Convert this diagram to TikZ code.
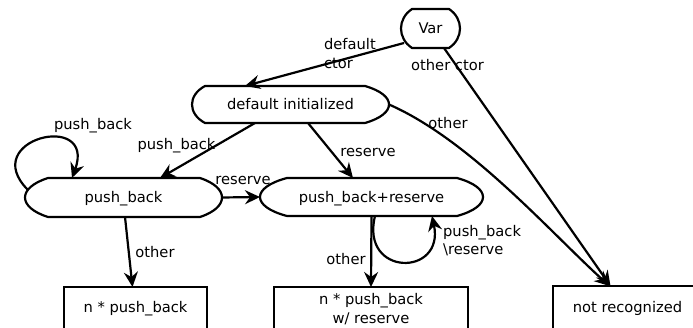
\documentclass[tikz,border=0pt]{standalone}
\usepackage{fontspec}
\setmainfont{DejaVu Sans}
\usetikzlibrary{arrows.meta,calc}
\newcommand\stateoutline[6]{%
  \draw[outline] ({#1+#5},#3) -- ({#2-#6},#3)
    .. controls ({#2+#6/3},{#3+0.25*(#4-#3)}) and ({#2+#6/3},{#4-0.25*(#4-#3)}) .. ({#2-#6},#4)
    -- ({#1+#5},#4)
    .. controls ({#1-#5/3},{#4-0.25*(#4-#3)}) and ({#1-#5/3},{#3+0.25*(#4-#3)}) .. cycle;}
\begin{document}
\begin{tikzpicture}[x=1pt,y=-1pt,
  font=\fontsize{14.7pt}{18.4pt}\selectfont,
  line width=2.2pt,
  statenode/.style={inner sep=0pt,outer sep=0pt,text height=11pt,text depth=0pt},
  boxnode/.style={draw,inner sep=0pt,outer sep=0pt,align=center},
  lab/.style={inner sep=0pt,anchor=base},
  mlab/.style={inner sep=0pt,align=left,anchor=base west},
  arr/.style={-{Stealth[length=15pt,width=14pt,inset=5pt]}},
  outline/.style={line join=round}]
\useasboundingbox (0,0) rectangle (693,328);
\clip (0,0) rectangle (693,328);
% states
\node[statenode,minimum width=59pt,minimum height=39pt] (var) at (430.5,28.5) {Var};
\node[statenode,minimum width=197pt,minimum height=37pt] (di) at (290.5,104.5) {default initialized};
\node[statenode,minimum width=197pt,minimum height=39pt] (pb) at (123.5,197.5) {push\_back};
\node[statenode,minimum width=223pt,minimum height=38pt] (pbr) at (371.5,197) {push\_back+reserve};
\stateoutline{401}{460}{9}{48}{11}{11}
\stateoutline{192}{389}{86}{123}{13}{24}
\stateoutline{25}{222}{178}{217}{23}{22}
\stateoutline{260}{483}{178}{216}{27}{26}
% results
\node[boxnode,minimum width=143pt,minimum height=44pt] (npb) at (135.5,309) {n * push\_back};
\node[boxnode,minimum width=194pt,minimum height=44pt] (npbr) at (371,309) {n * push\_back\\w/ reserve};
\node[boxnode,minimum width=149pt,minimum height=44pt] (nr) at (627.5,308) {not recognized};
% connectors
\draw[arr] ($(var.south west)+(3,-5)$) -- ($(di.north)+(-45.5,0)$)
  node[mlab] at (323,68.3) {default\\ctor};
\draw[arr] ($(var.south)+(13.5,0)$) -- ($(nr.north)+(-17,0)$)
  node[lab] at (447.5,71) {other ctor};
\draw[arr] (di.east) .. controls (470,140) and (550,232) .. ($(nr.north)+(-18,0)$)
  node[lab] at (448,128.3) {other};
\draw[arr] ($(di.south)+(-35.5,0)$) -- ($(pb.north)+(36.5,0)$)
  node[lab] at (176.5,149.3) {push\_back};
\draw[arr] ($(di.south)+(17.5,0)$) -- ($(pbr.north)+(-18.5,0)$)
  node[lab] at (368,157) {reserve};
\draw[arr] ($(pb.west)+(3,-7.5)$) .. controls +(-51,-51) and +(24.6,-67.7) .. ($(pb.north west)+(47,0)$)
  node[lab] at (93,130) {push\_back};
\draw[arr] (pb.east) -- (pbr.west)
  node[lab] at (243,185) {reserve};
\draw[arr] ($(pb.south)+(1.5,0)$) -- ($(npb.north)+(-3,0)$)
  node[lab] at (155,257.3) {other};
\draw[arr] ($(pbr.south)+(3.5,0)$) .. controls +(-15,61) and +(13,61) .. ($(pbr.south)+(60.5,0)$)
  node[mlab] at (442,255) {push\_back\\\textbackslash reserve};
\draw[arr] (pbr.south) -- (npbr.north)
  node[lab] at (346,265) {other};
\end{tikzpicture}
\end{document}
